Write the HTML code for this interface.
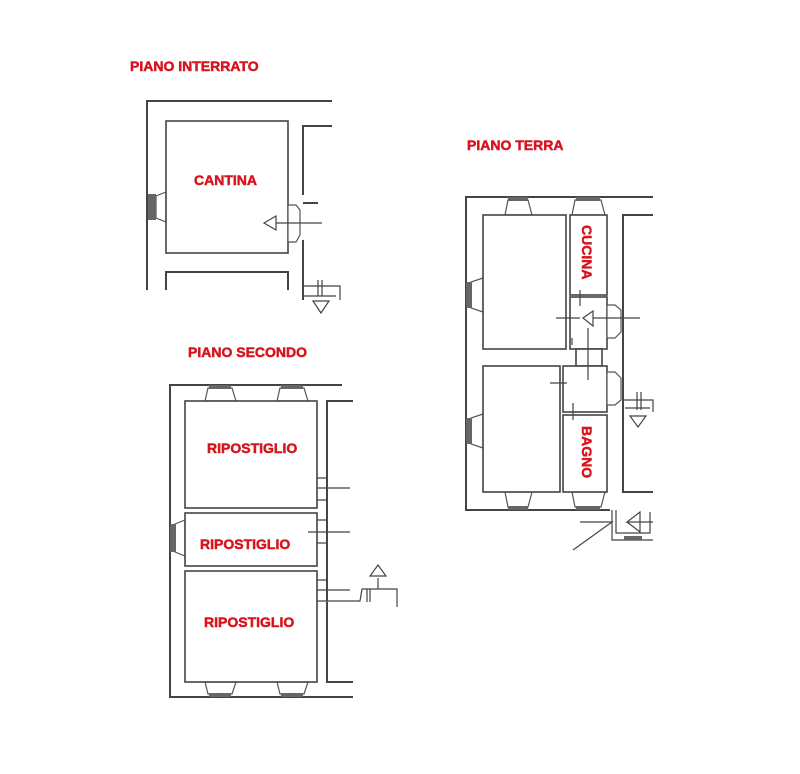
<!DOCTYPE html>
<html><head><meta charset="utf-8"><style>
html,body{margin:0;padding:0;background:#fff;}
svg{display:block}
text{font-family:"Liberation Sans",Arial,sans-serif;font-weight:bold;fill:#d7141e;stroke:#d7141e;stroke-width:0.5;}
.w{stroke:#444;stroke-width:2;fill:none}
.r{stroke:#444;stroke-width:1.6;fill:#fff}
.t{stroke:#444;stroke-width:1.2;fill:#fff}
.v{stroke:#555;stroke-width:1.2;fill:#fff}
</style></head><body>
<svg width="800" height="774" viewBox="0 0 800 774" xmlns="http://www.w3.org/2000/svg">
<!-- PIANO INTERRATO -->
<text x="130" y="71" font-size="14" font-weight="bold">PIANO INTERRATO</text>
<path class="w" d="M147 290 V101 H332"/>
<path class="w" d="M332 126 H303 V195"/>
<path class="w" d="M303 203 H318"/>
<path class="v" d="M166 192 L156 196 V218 L166 222 Z"/>
<rect x="148" y="194" width="8" height="26" fill="#666"/>
<rect class="r" x="166" y="121" width="122" height="132"/>
<path class="w" d="M166 290 V272 H288 V290"/>
<path class="v" d="M288 205 H296 L300 210 V235 L296 242 H288 Z"/>
<path class="t" d="M264 223 L276 216 V230 Z"/>
<path class="t" d="M276 223 H322"/>
<path class="w" d="M303 240 V300"/>
<path class="t" d="M303 286 H340 V300 M303 296 H336 M318 280 V296 M322 280 V296"/>
<path class="t" d="M313 301 L329 301 L321 313 Z"/>
<text x="194" y="185" font-size="14" font-weight="bold">CANTINA</text>

<!-- PIANO TERRA -->
<text x="467" y="150" font-size="14" font-weight="bold">PIANO TERRA</text>
<path class="w" d="M653 197 H466 V510 H610"/>
<path class="w" d="M653 215 H623 V492 H653"/>
<path class="v" d="M505 215 L508 200 H528 L532 215 Z"/><rect x="508" y="197" width="20" height="4" fill="#666"/>
<path class="v" d="M572 215 L575 200 H601 L605 215 Z"/><rect x="576" y="197" width="24" height="4" fill="#666"/>
<path class="v" d="M505 492 L508 507 H528 L532 492 Z"/><rect x="508" y="506" width="20" height="4" fill="#666"/>
<path class="v" d="M572 492 L575 507 H601 L605 492 Z"/><rect x="576" y="506" width="24" height="4" fill="#666"/>
<path class="v" d="M483 278 L471 282 V308 L483 312 Z"/><rect x="466" y="282" width="6" height="26" fill="#666"/>
<path class="v" d="M483 414 L471 418 V444 L483 448 Z"/><rect x="466" y="418" width="6" height="26" fill="#666"/>
<rect class="r" x="483" y="215" width="83" height="134"/>
<rect class="r" x="570" y="215" width="37" height="80"/>
<rect class="r" x="570" y="297" width="37" height="52"/>
<rect class="r" x="576" y="349" width="26" height="17"/>
<rect class="r" x="483" y="366" width="77" height="126"/>
<rect class="r" x="563" y="366" width="44" height="46"/>
<rect class="r" x="563" y="415" width="44" height="77"/>
<path class="v" d="M607 305 H615 L621 310 V332 L615 338 H607 Z"/>
<path class="v" d="M607 372 H615 L621 378 V400 L615 405 H607 Z"/>
<path class="t" d="M583 318 L593 311 V326 Z M593 318 H640 M556 318 H580 M580 290 V306 M588 328 V380 M550 383 H567 M573 403 V420 M572 338 V345"/>
<path class="t" d="M623 400 H653 V412 M625 408 H650 M637 392 V410 M641 392 V410"/>
<path class="t" d="M630 416 L646 416 L638 427 Z"/>
<path class="t" d="M612 510 V540 H653 M616 510 V533 H650 V512 M653 522 H627 L640 512 V532 L627 522 M580 522 H612 L573 550"/>
<rect x="624" y="536" width="18" height="4" fill="#666"/>
<text font-size="14" font-weight="bold" transform="translate(582,225) rotate(90)">CUCINA</text>
<text font-size="14" font-weight="bold" transform="translate(582,426) rotate(90)">BAGNO</text>

<!-- PIANO SECONDO -->
<text x="188" y="357" font-size="14" font-weight="bold">PIANO SECONDO</text>
<path class="w" d="M342 385 H170 V697 H353"/>
<path class="w" d="M353 401 H327 V682 H353"/>
<path class="v" d="M205 401 L208 388 H232 L236 401 Z"/><rect x="209" y="385" width="22" height="4" fill="#666"/>
<path class="v" d="M277 401 L280 388 H304 L308 401 Z"/><rect x="281" y="385" width="22" height="4" fill="#666"/>
<path class="v" d="M205 682 L208 694 H232 L236 682 Z"/><rect x="209" y="693" width="22" height="4" fill="#666"/>
<path class="v" d="M277 682 L280 694 H304 L308 682 Z"/><rect x="281" y="693" width="22" height="4" fill="#666"/>
<path class="v" d="M185 520 L175 524 V552 L185 556 Z"/><rect x="170" y="524" width="6" height="28" fill="#666"/>
<rect class="r" x="185" y="401" width="132" height="107"/>
<rect class="r" x="185" y="513" width="132" height="53"/>
<rect class="r" x="185" y="571" width="132" height="111"/>
<path class="t" d="M317 478 H327 M317 488 H350 M317 500 H327 M317 520 H327 M308 532 H350 M317 543 H327 M317 580 H327 M317 590 H350 M317 601 H360 L362 589 H397 V607 M367 589 V602 M370 589 V602 M378 589 V578"/>
<path class="t" d="M370 576 L386 576 L378 565 Z"/>
<text x="207" y="453" font-size="14" font-weight="bold">RIPOSTIGLIO</text>
<text x="200" y="549" font-size="14" font-weight="bold">RIPOSTIGLIO</text>
<text x="204" y="627" font-size="14" font-weight="bold">RIPOSTIGLIO</text>
</svg>
</body></html>
